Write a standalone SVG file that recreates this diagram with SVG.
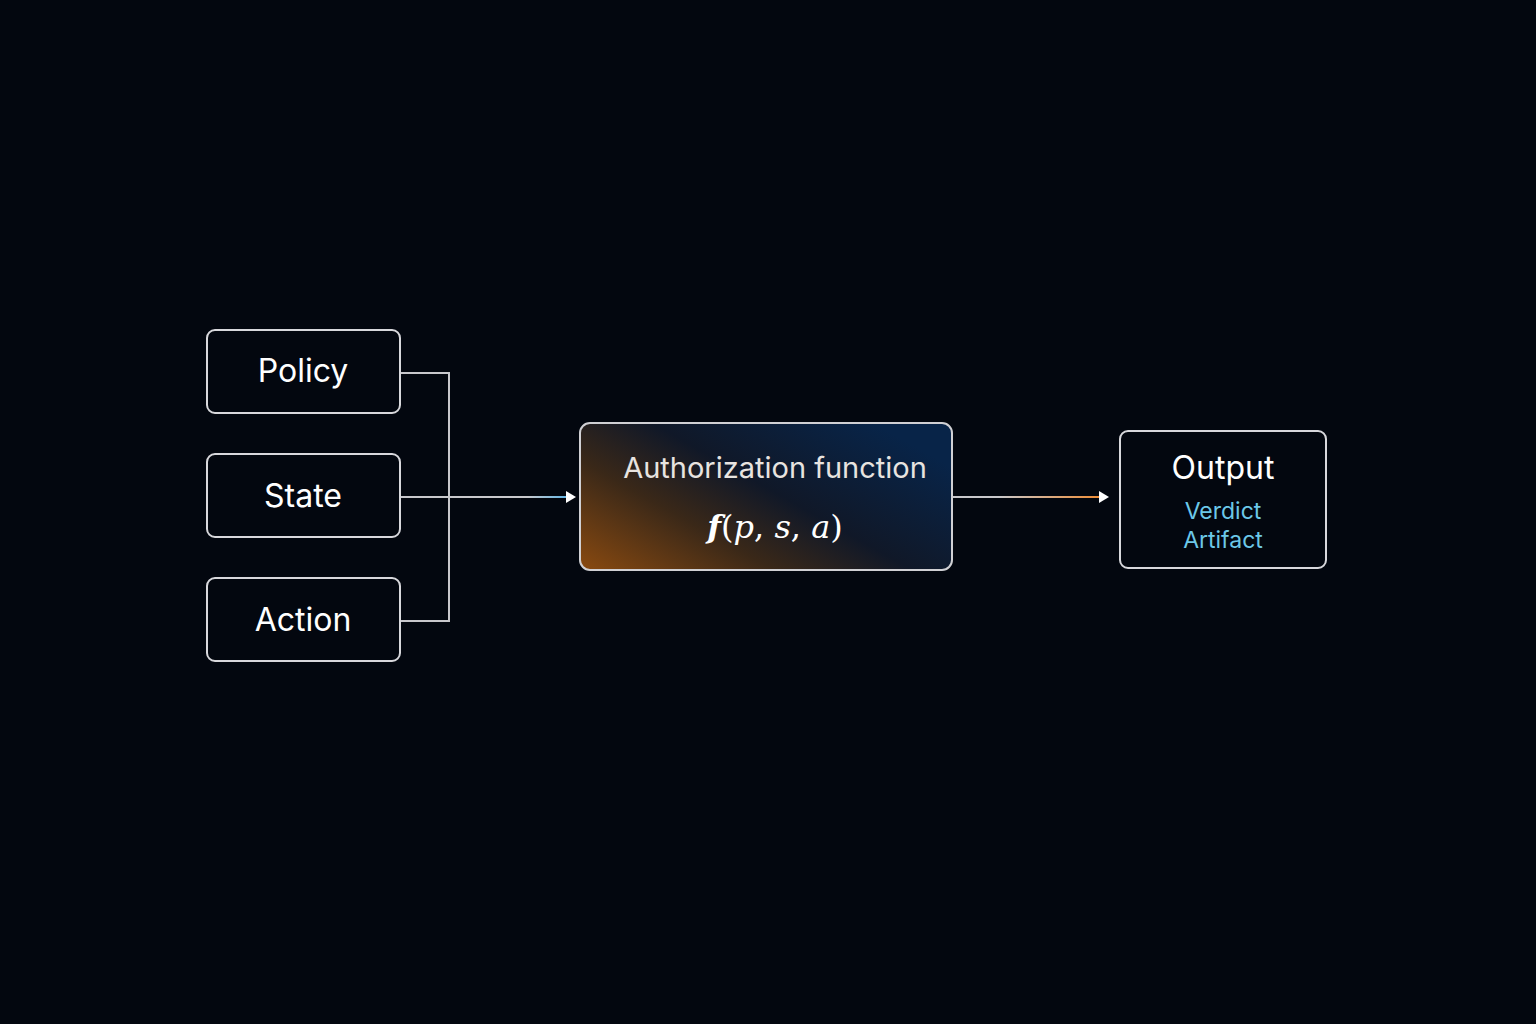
<svg xmlns="http://www.w3.org/2000/svg" width="1536" height="1024" viewBox="0 0 1536 1024">
<style>
.box{fill:#03070f;stroke:#d8d8dc;stroke-width:2}
.t{font-family:Inter,"Liberation Sans",sans-serif;fill:#ffffff;text-anchor:middle}
.c{fill:none;stroke:#c8c8cc;stroke-width:2}
</style>
<defs>
<linearGradient id="fg" x1="0" y1="1" x2="1" y2="0.3">
<stop offset="0" stop-color="#8a4a10"/>
<stop offset="0.35" stop-color="#3a2818"/>
<stop offset="0.6" stop-color="#101828"/>
<stop offset="1" stop-color="#082448"/>
</linearGradient>
<linearGradient id="g1" x1="400" y1="0" x2="570" y2="0" gradientUnits="userSpaceOnUse">
<stop offset="0.75" stop-color="#c8c8cc"/><stop offset="1" stop-color="#5ab4e8"/>
</linearGradient>
<linearGradient id="g2" x1="953" y1="0" x2="1105" y2="0" gradientUnits="userSpaceOnUse">
<stop offset="0.3" stop-color="#c8c8cc"/><stop offset="1" stop-color="#f08a30"/>
</linearGradient>
</defs>
<rect width="1536" height="1024" fill="#03070f"/>
<g id="connectors">
<path class="c" d="M401 373 H449 V621 H401"/>
<line x1="401" y1="497" x2="570" y2="497" stroke="url(#g1)" stroke-width="2"/>
<path d="M566 491 L576 497 L566 503 Z" fill="#fff"/>
<line x1="953" y1="497" x2="1102" y2="497" stroke="url(#g2)" stroke-width="2"/>
<path d="M1099 491 L1109 497 L1099 503 Z" fill="#fff"/>
</g>
<g id="policy"><rect class="box" x="207" y="330" width="193" height="83" rx="8"/><text class="t" x="303" y="382" font-size="32">Policy</text></g>
<g id="state"><rect class="box" x="207" y="454" width="193" height="83" rx="8"/><text class="t" x="303" y="507" font-size="32">State</text></g>
<g id="action"><rect class="box" x="207" y="578" width="193" height="83" rx="8"/><text class="t" x="303" y="631" font-size="32">Action</text></g>
<g id="auth"><rect x="580" y="423" width="372" height="147" rx="10" fill="url(#fg)" stroke="#d0d0d4" stroke-width="2"/>
<text class="t" x="775" y="478" font-size="29" fill="#e8e4e0" style="fill:#e8e4e0">Authorization function</text>
<text x="775" y="538" font-size="32" text-anchor="middle" fill="#fff" font-family="'DejaVu Serif','Liberation Serif',serif" font-style="italic"><tspan font-weight="bold">f</tspan><tspan font-style="normal">(</tspan>p<tspan font-style="normal">, </tspan>s<tspan font-style="normal">, </tspan>a<tspan font-style="normal">)</tspan></text></g>
<g id="output"><rect class="box" x="1120" y="431" width="206" height="137" rx="8"/>
<text class="t" x="1223" y="479" font-size="32">Output</text>
<text class="t" x="1223" y="519" font-size="23" style="fill:#6cc8e8">Verdict</text>
<text class="t" x="1223" y="548" font-size="23" style="fill:#6cc8e8">Artifact</text></g>
</svg>
